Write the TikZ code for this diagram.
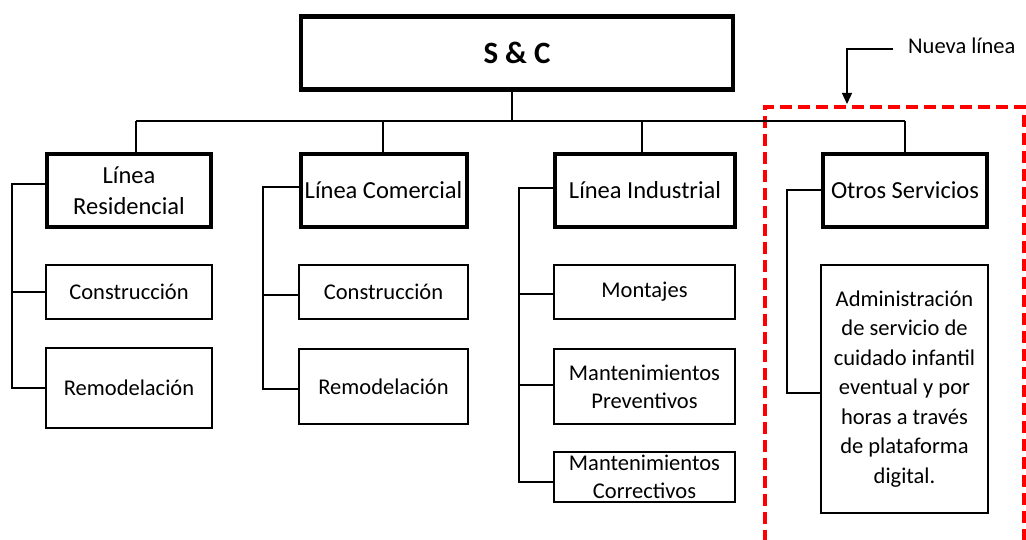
\documentclass[tikz,border=0pt]{standalone}
\usepackage{fontspec}
\setmainfont{Carlito}
\usetikzlibrary{arrows.meta}
\begin{document}
\begin{tikzpicture}[x=1pt,y=-1pt,
  base/.style={draw=black,fill=white,align=center,inner sep=2pt,font=\fontsize{22.5}{28}\selectfont},
  topbox/.style={base,line width=4.5pt,font=\fontsize{31}{34}\selectfont\bfseries},
  linebox/.style={base,line width=4pt,font=\fontsize{24.5}{31}\selectfont},
  subbox/.style={base,line width=2pt},
  conn/.style={draw=black,line width=1.3pt},
  reddash/.style={draw=red,line width=4pt,dash pattern=on 12pt off 6pt}
]
\useasboundingbox (0,0) rectangle (1026,540);
% red dashed frame
\draw[reddash] (765,560) -- (765,107) -- (1024,107) -- (1024,560);

% top box
\node[topbox,minimum width=432pt,minimum height=73pt] (top) at (517,53) {S \& C};

% level 1
\node[linebox,minimum width=164pt,minimum height=73pt,text width=150pt] (res) at (129,190.5) {Línea\\Residencial};
\node[linebox,minimum width=166pt,minimum height=73pt] (com) at (383.5,190.5) {Línea Comercial};
\node[linebox,minimum width=180pt,minimum height=73pt] (ind) at (645,190.5) {Línea Industrial};
\node[linebox,minimum width=164pt,minimum height=73pt] (otr) at (905,190.5) {Otros Servicios};

% level 2 residencial
\node[subbox,minimum width=166pt,minimum height=54pt] (resA) at (129,292) {Construcción};
\node[subbox,minimum width=166pt,minimum height=80pt] (resB) at (129,388) {Remodelación};
% comercial
\node[subbox,minimum width=169pt,minimum height=54pt] (comA) at (383.5,292) {Construcción};
\node[subbox,minimum width=169pt,minimum height=75pt] (comB) at (383.5,386.5) {Remodelación};
% industrial
\node[subbox,minimum width=181pt,minimum height=54pt] (indA) at (644.5,292) {Montajes};
\node[subbox,minimum width=181pt,minimum height=75pt] (indB) at (644.5,386.5) {Mantenimientos\\Preventivos};
\node[subbox,minimum width=181pt,minimum height=50pt] (indC) at (644.5,477) {Mantenimientos\\Correctivos};
% otros
\node[subbox,minimum width=167pt,minimum height=248pt,font=\fontsize{22.5}{29.5}\selectfont] (otrA) at (904.5,389) {Administración\\de servicio de\\cuidado infantil\\eventual y por\\horas a través\\de plataforma\\digital.};

% bus
\coordinate (bus) at (512,121);
\draw[conn] (top.south -| bus) -- (bus);
\draw[conn] (136,121 |- bus) -- (905,121);
\draw[conn] (136,121) -- (136,121 |- res.north);
\draw[conn] (383,121) -- (383,121 |- com.north);
\draw[conn] (642,121) -- (642,121 |- ind.north);
\draw[conn] (905,121) -- (otr.north);

% rails
\draw[conn] (res.west |- 0,184) -- (12,184) -- (12,388) -- (resB.west);
\draw[conn] (12,292) -- (resA.west);
\draw[conn] (com.west |- 0,187) -- (263,187) -- (263,389) -- (comB.west |- 0,389);
\draw[conn] (263,295) -- (comA.west |- 0,295);
\draw[conn] (ind.west |- 0,188) -- (519,188) -- (519,482) -- (indC.west |- 0,482);
\draw[conn] (519,294) -- (indA.west |- 0,294);
\draw[conn] (519,385) -- (indB.west |- 0,385);
\draw[conn] (otr.west |- 0,190) -- (787,190) -- (787,393) -- (otrA.west |- 0,393);

% annotation
\node[font=\fontsize{22.5}{26}\selectfont,anchor=west,inner sep=0pt] (nueva) at (908,46) {Nueva línea};
\coordinate (arrtip) at (847,104);
\draw[draw=black,line width=1.3pt,-{Triangle[length=11pt,width=10pt]}] (893,49) -- (847,49) -- (arrtip);
\end{tikzpicture}
\end{document}
